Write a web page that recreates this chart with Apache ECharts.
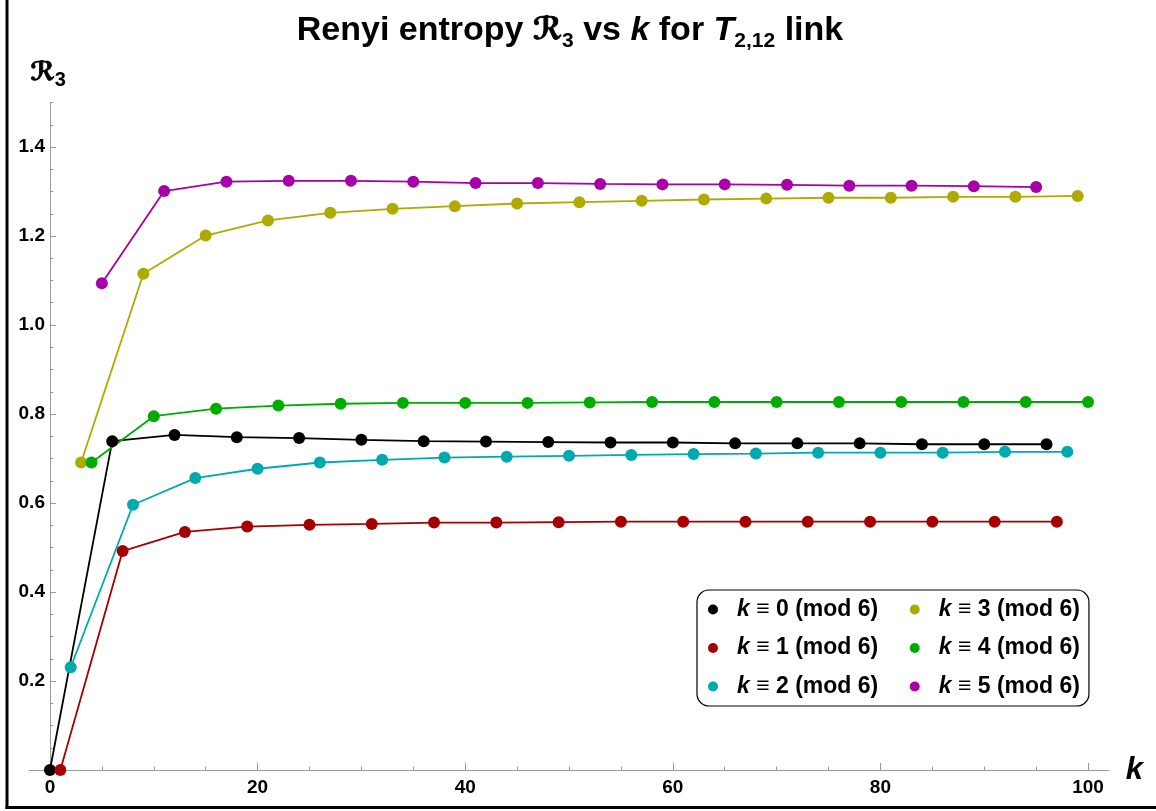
<!DOCTYPE html>
<html>
<head>
<meta charset="utf-8">
<script src="https://cdn.jsdelivr.net/npm/echarts@6/dist/echarts.min.js"></script>
<style>
html,body{margin:0;padding:0;background:#fff;}
#chart{width:1156px;height:811px;}
</style>
</head>
<body>
<div id="chart"></div>
<script>
// ---- data ----
const seriesNames = ['k ≡ 0 (mod 6)','k ≡ 1 (mod 6)','k ≡ 2 (mod 6)','k ≡ 3 (mod 6)','k ≡ 4 (mod 6)','k ≡ 5 (mod 6)'];
const k0 = [0,6,12,18,24,30,36,42,48,54,60,66,72,78,84,90,96];
const r0 = [0,0.739,0.753,0.748,0.746,0.742,0.739,0.738,0.737,0.736,0.736,0.734,0.734,0.734,0.732,0.732,0.732];
const k1 = [1,7,13,19,25,31,37,43,49,55,61,67,73,79,85,91,97];
const r1 = [0,0.492,0.535,0.547,0.551,0.553,0.556,0.556,0.557,0.558,0.558,0.558,0.558,0.558,0.558,0.558,0.558];
const k2 = [2,8,14,20,26,32,38,44,50,56,62,68,74,80,86,92,98];
const r2 = [0.231,0.596,0.656,0.677,0.691,0.697,0.702,0.704,0.706,0.708,0.710,0.711,0.713,0.713,0.713,0.715,0.715];
const k3 = [3,9,15,21,27,33,39,45,51,57,63,69,75,81,87,93,99];
const r3 = [0.691,1.115,1.201,1.235,1.252,1.261,1.267,1.273,1.276,1.279,1.282,1.284,1.286,1.286,1.288,1.288,1.290];
const k4 = [4,10,16,22,28,34,40,46,52,58,64,70,76,82,88,94,100];
const r4 = [0.691,0.795,0.812,0.819,0.823,0.825,0.825,0.825,0.826,0.827,0.827,0.827,0.827,0.827,0.827,0.827,0.827];
const k5 = [5,11,17,23,29,35,41,47,53,59,65,71,77,83,89,95];
const r5 = [1.094,1.301,1.322,1.324,1.324,1.322,1.319,1.319,1.317,1.316,1.316,1.315,1.313,1.313,1.312,1.310];

const xMajorTicks = [0,20,40,60,80,100];
const xMinorTicks = [5,10,15,25,30,35,45,50,55,65,70,75,85,90,95];
const yMajorTicks = [0.2,0.4,0.6,0.8,1.0,1.2,1.4];
const yMinorTicks = [0.05,0.1,0.15,0.25,0.3,0.35,0.45,0.5,0.55,0.65,0.7,0.75,0.85,0.9,0.95,1.05,1.1,1.15,1.25,1.3,1.35,1.45,1.5];

const colors = ['#000000','#a50000','#00a9ae','#aeaa00','#00ac00','#a800a8'];
const kArr = [k0,k1,k2,k3,k4,k5];
const rArr = [r0,r1,r2,r3,r4,r5];

const FONT = 'Liberation Sans, Arial, sans-serif';
const axisGray = '#9a9a9a';

// plot geometry (pixels)
const X_MIN = -2, X_MAX = 102, Y_MIN = 0, Y_MAX = 1.5;
const GL = 29.2, GR = 1108.8, GT = 102.5, GB = 770;
const W = 1156, H = 811;
const pxPerX = (GR - GL) / (X_MAX - X_MIN);
const zeroX = GL + (0 - X_MIN) * pxPerX;

const chart = echarts.init(document.getElementById('chart'));

const series = seriesNames.map((n, i) => ({
  name: n,
  type: 'line',
  xAxisIndex: 0,
  yAxisIndex: 0,
  data: kArr[i].map((k, j) => [k, rArr[i][j]]),
  symbol: 'circle',
  symbolSize: 12,
  showSymbol: true,
  clip: false,
  lineStyle: {color: colors[i], width: 1.8},
  itemStyle: {color: colors[i]},
  emphasis: {disabled: true},
  animation: false
}));

const option = {
  animation: false,
  backgroundColor: '#fff',
  color: colors,
  title: {
    left: 565,
    top: 5,
    padding: 5,
    textAlign: 'center',
    text: '{b|Renyi entropy }{r|ℛ}{s|3}{b| vs }{i|k}{b| for }{i|T}{s|2,12}{b| link}',
    textStyle: {
      rich: {
        b: {fontFamily: FONT, fontSize: 34, fontWeight: 'bold', color: '#000', lineHeight: 42},
        i: {fontFamily: FONT, fontSize: 34, fontWeight: 'bold', fontStyle: 'italic', color: '#000', lineHeight: 42},
        r: {fontFamily: 'DejaVu Sans', fontSize: 31, fontWeight: 'bold', color: '#000', lineHeight: 42, textBorderColor: '#000', textBorderWidth: 0.9},
        s: {fontFamily: FONT, fontSize: 21, fontWeight: 'bold', color: '#000', lineHeight: 21, verticalAlign: 'bottom'}
      }
    }
  },
  grid: {left: GL, right: W - GR, top: GT, bottom: H - GB, containLabel: false, outerBoundsMode: 'none'},
  legend: {
    left: 697,
    top: 590,
    orient: 'vertical',
    height: 120,
    padding: [8, 3, 8, 11],
    itemGap: 15.5,
    itemWidth: 20,
    itemHeight: 10,
    icon: 'circle',
    borderColor: '#000',
    borderWidth: 1.2,
    borderRadius: 12,
    backgroundColor: '#fff',
    selectedMode: false,
    data: seriesNames,
    formatter: function (n) {
      const idx = seriesNames.indexOf(n);
      return '{i|k}{' + (idx < 3 ? 'n' : 'm') + '|' + n.slice(1) + '}';
    },
    textStyle: {
      rich: {
        i: {fontFamily: FONT, fontSize: 23, fontWeight: 'bold', fontStyle: 'italic', color: '#000', lineHeight: 22, padding: [0, 0, 0, 9]},
        n: {fontFamily: FONT, fontSize: 23, fontWeight: 'bold', color: '#000', lineHeight: 22, padding: [0, 16, 0, 0]},
        m: {fontFamily: FONT, fontSize: 23, fontWeight: 'bold', color: '#000', lineHeight: 22, padding: [0, 6, 0, 0]}
      }
    }
  },
  xAxis: [
    {
      type: 'value', min: X_MIN, max: X_MAX, position: 'bottom',
      axisLine: {show: true, onZero: false, lineStyle: {color: axisGray, width: 1}},
      axisTick: {show: true, inside: true, length: 7, customValues: xMajorTicks, lineStyle: {color: axisGray, width: 1}},
      axisLabel: {customValues: xMajorTicks, fontFamily: FONT, fontSize: 19, fontWeight: 'bold', color: '#000', margin: 8},
      splitLine: {show: false},
      name: 'k', nameLocation: 'end', nameGap: 17,
      nameTextStyle: {fontFamily: FONT, fontSize: 31, fontWeight: 'bold', fontStyle: 'italic', color: '#000', verticalAlign: 'middle', padding: [14, 0, 0, 0]}
    },
    {
      type: 'value', min: X_MIN, max: X_MAX, position: 'top',
      offset: -(GB - GT),
      axisLine: {show: false, onZero: false},
      axisTick: {show: true, inside: false, length: 3.5, customValues: xMinorTicks, lineStyle: {color: axisGray, width: 1}},
      axisLabel: {show: false},
      splitLine: {show: false}
    }
  ],
  yAxis: [
    {
      type: 'value', min: Y_MIN, max: Y_MAX, position: 'left',
      offset: -(zeroX - GL),
      axisLine: {show: true, onZero: false, lineStyle: {color: axisGray, width: 1}},
      axisTick: {show: true, inside: true, length: 6, customValues: yMajorTicks, lineStyle: {color: axisGray, width: 1}},
      axisLabel: {customValues: yMajorTicks, fontFamily: FONT, fontSize: 19, fontWeight: 'bold', color: '#000', margin: 5,
        formatter: v => v.toFixed(1)},
      splitLine: {show: false}
    },
    {
      type: 'value', min: Y_MIN, max: Y_MAX, position: 'right',
      offset: -(GR - zeroX),
      axisLine: {show: false, onZero: false},
      axisTick: {show: true, inside: false, length: 3.5, customValues: yMinorTicks, lineStyle: {color: axisGray, width: 1}},
      axisLabel: {show: false},
      splitLine: {show: false}
    }
  ],
  graphic: [
    {type: 'line', shape: {x1: 7, y1: 0, x2: 7, y2: 809}, style: {stroke: '#000', lineWidth: 3}, z: 100},
    {type: 'line', shape: {x1: 5.5, y1: 807.5, x2: 1156, y2: 807.5}, style: {stroke: '#000', lineWidth: 3}, z: 100},
    {type: 'text', left: 30, top: 60, z: 100,
      style: {
        text: '{r|ℛ}{s|3}',
        rich: {
          r: {fontFamily: 'DejaVu Sans', fontSize: 26, fontWeight: 'bold', fill: '#000', lineHeight: 34, stroke: '#000', lineWidth: 0.8},
          s: {fontFamily: FONT, fontSize: 20, fontWeight: 'bold', fill: '#000', lineHeight: 20, verticalAlign: 'bottom'}
        }
      }
    }
  ],
  series: series
};
chart.setOption(option);
</script>
</body>
</html>
